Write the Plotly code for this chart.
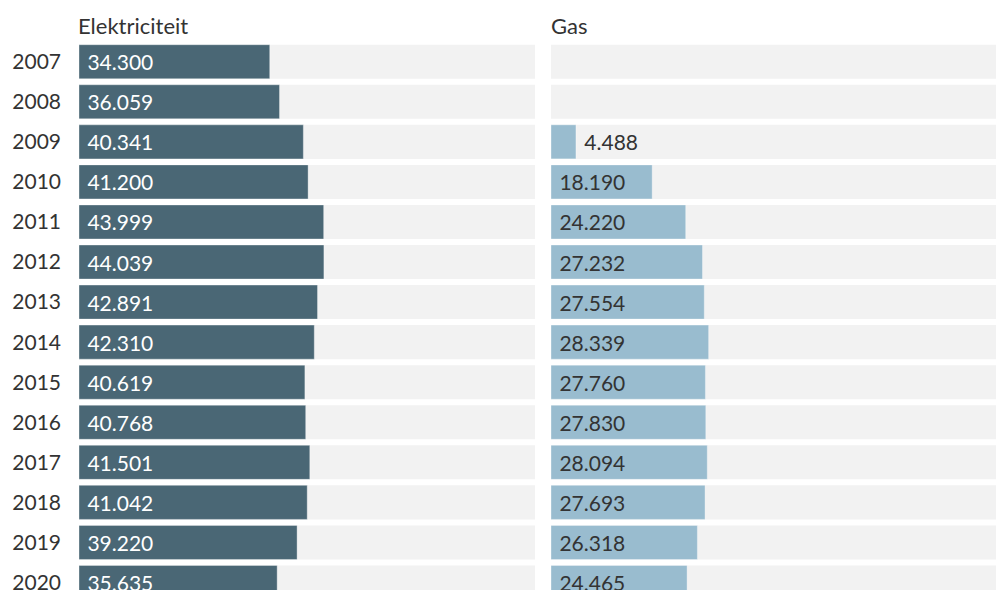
import plotly.graph_objects as go

years = [2007, 2008, 2009, 2010, 2011, 2012, 2013, 2014, 2015, 2016, 2017, 2018, 2019, 2020]
elektriciteit = [34300, 36059, 40341, 41200, 43999, 44039, 42891, 42310, 40619, 40768, 41501, 41042, 39220, 35635]
gas = [None, None, 4488, 18190, 24220, 27232, 27554, 28339, 27760, 27830, 28094, 27693, 26318, 24465]
panel_titles = ["Elektriciteit", "Gas"]

LEFT_MAX = 82000
RIGHT_MAX = 80000
BAND = "#f2f2f2"
DARK = "#4a6775"
LIGHT = "#99bccf"
FONT = "Lato, 'Open Sans', sans-serif"
VAL_SIZE = 21
BW = 0.85

fig = go.Figure()

# background bands
fig.add_trace(go.Bar(y=years, x=[LEFT_MAX] * len(years), orientation="h",
                     marker=dict(color=BAND, line=dict(width=0)), width=BW,
                     xaxis="x", yaxis="y", hoverinfo="skip", showlegend=False))
fig.add_trace(go.Bar(y=years, x=[RIGHT_MAX] * len(years), orientation="h",
                     marker=dict(color=BAND, line=dict(width=0)), width=BW,
                     xaxis="x2", yaxis="y2", hoverinfo="skip", showlegend=False))

# electricity bars
fig.add_trace(go.Bar(y=years, x=elektriciteit, orientation="h",
                     marker=dict(color=DARK, line=dict(color="rgba(255,255,255,0.35)", width=1)),
                     width=BW, xaxis="x", yaxis="y",
                     texttemplate="\u00a0%{x:,.0f}", textposition="inside", insidetextanchor="start",
                     textfont=dict(color="white", size=VAL_SIZE, family=FONT),
                     constraintext="none", cliponaxis=True, showlegend=False))

gas_pos = ["outside" if (v is not None and v < 8000) else "inside" for v in gas]
fig.add_trace(go.Bar(y=years, x=gas, orientation="h",
                     marker=dict(color=LIGHT, line=dict(color="rgba(255,255,255,0.35)", width=1)),
                     width=BW, xaxis="x2", yaxis="y2",
                     texttemplate="\u00a0%{x:,.0f}", textposition=gas_pos, insidetextanchor="start",
                     textfont=dict(color="#333333", size=VAL_SIZE, family=FONT),
                     insidetextfont=dict(color="#333333", size=VAL_SIZE, family=FONT),
                     outsidetextfont=dict(color="#333333", size=VAL_SIZE, family=FONT),
                     constraintext="none", cliponaxis=True, showlegend=False))

yr = [2020.187, 2005.459]
fig.update_layout(
    width=996, height=594,
    margin=dict(l=0, r=0, t=0, b=0),
    paper_bgcolor="white", plot_bgcolor="white",
    barmode="overlay", separators=",.",
    font=dict(family=FONT, color="#333333"),
    xaxis=dict(domain=[79 / 996, 535 / 996], range=[0, LEFT_MAX], visible=False, fixedrange=True),
    xaxis2=dict(domain=[551 / 996, 1], range=[0, RIGHT_MAX], visible=False, fixedrange=True),
    yaxis=dict(range=yr, anchor="x", tickvals=years, ticktext=[str(y) for y in years],
               showgrid=False, zeroline=False, showline=False, ticks="",
               ticklabeloverflow="allow", fixedrange=True,
               ticklabelstandoff=17, tickfont=dict(size=VAL_SIZE, color="#333333", family=FONT)),
    yaxis2=dict(range=yr, anchor="x2", showticklabels=False, showgrid=False,
                zeroline=False, showline=False, matches="y", fixedrange=True),
    annotations=[
        dict(text=panel_titles[0], xref="paper", yref="paper", x=79 / 996, y=1 - 26 / 594,
             xanchor="left", yanchor="middle", showarrow=False, xshift=-3,
             font=dict(size=22, color="#333333", family=FONT)),
        dict(text=panel_titles[1], xref="paper", yref="paper", x=551 / 996, y=1 - 26 / 594,
             xanchor="left", yanchor="middle", showarrow=False, xshift=-2,
             font=dict(size=22, color="#333333", family=FONT)),
    ],
)

fig.write_html("out.html", config={"displayModeBar": False},
               post_script="document.body.style.margin='0';document.body.style.overflow='hidden';")
